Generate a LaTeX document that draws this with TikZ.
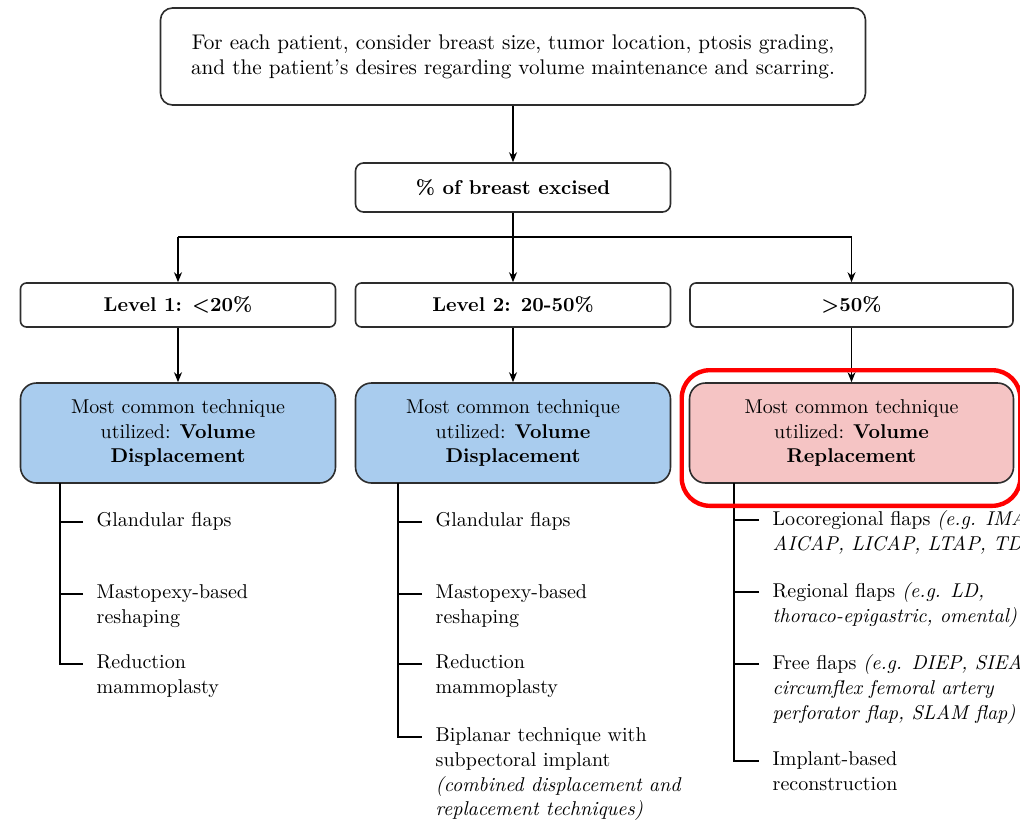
\documentclass[tikz,border=0pt]{standalone}
\usepackage{tikz}
\usetikzlibrary{arrows.meta}

\definecolor{dispblue}{RGB}{169,204,238}
\definecolor{replpink}{RGB}{245,196,196}
\definecolor{framegray}{RGB}{45,45,45}

\begin{document}
\begin{tikzpicture}[x=0.5pt,y=-0.5pt,line width=0.7pt,
    font=\fontsize{10}{12.4}\selectfont]
    \useasboundingbox (0,0) rectangle (1020,825);

    % boxes of the flow
    \begin{scope}[every node/.style={draw=framegray,line width=0.8pt,align=center,inner sep=2pt}]
      \node[rounded corners=6pt,minimum width=352.5pt,minimum height=48.5pt,
        font=\fontsize{10.6}{12.6}\selectfont] (top) at (513,56.5)
        {For each patient, consider breast size, tumor location, ptosis grading,\\
         and the patient's desires regarding volume maintenance and scarring.};
      \node[rounded corners=4pt,minimum width=157.5pt,minimum height=24.5pt,font=\bfseries] (exc) at (513,187.5) {\% of breast excised};
      \node[rounded corners=3pt,minimum width=157.5pt,minimum height=22pt,font=\bfseries] (lv1) at (178,305) {Level 1: <20\%};
      \node[rounded corners=3pt,minimum width=157.5pt,minimum height=22pt,font=\bfseries] (lv2) at (513,305) {Level 2: 20-50\%};
      \node[rounded corners=3pt,minimum width=161.5pt,minimum height=22pt,font=\bfseries] (lv3) at (851.5,305) {>50\%};
      \node[rounded corners=8pt,minimum width=157.5pt,minimum height=50pt,fill=dispblue] (tc1) at (178,433)
        {Most common technique\\utilized: \textbf{Volume}\\\textbf{Displacement}};
      \node[rounded corners=8pt,minimum width=157.5pt,minimum height=50pt,fill=dispblue] (tc2) at (513,433)
        {Most common technique\\utilized: \textbf{Volume}\\\textbf{Displacement}};
      \node[rounded corners=8pt,minimum width=162pt,minimum height=50pt,fill=replpink] (tc3) at (851.5,433)
        {Most common technique\\utilized: \textbf{Volume}\\\textbf{Replacement}};
    \end{scope}

    \begin{scope}[>={Stealth[black,length=5pt,width=4pt]}]
      \coordinate (split) at (513,237);
      \draw[->] (top) -- (exc);
      \draw (exc) -- (split);
      \draw (split -| lv1) -- (split -| lv3);
      \draw[->] (split -| lv1) -- (lv1);
      \draw[->] (split) -- (lv2);
      \draw[->] (split -| lv3) -- (lv3);
      \draw[->] (lv1) -- (tc1);
      \draw[->] (lv2) -- (tc2);
      \draw[->] (lv3) -- (tc3);
    \end{scope}

    % lists under each technique
    \begin{scope}[every node/.style={anchor=north west,align=left,inner xsep=6.5pt,inner ysep=0pt}]
      \node (a1) at (83,512) {Glandular flaps};
      \node (a2) at (83,584) {Mastopexy-based\\reshaping};
      \node (a3) at (83,654) {Reduction\\mammoplasty};
      \node (b1) at (422,512) {Glandular flaps};
      \node (b2) at (422,584) {Mastopexy-based\\reshaping};
      \node (b3) at (422,654) {Reduction\\mammoplasty};
      \node (b4) at (422,727) {Biplanar technique with\\subpectoral implant\\
        \textit{(combined displacement and}\\\textit{replacement techniques)}};
      \node (c1) at (759,510) {Locoregional flaps \textit{(e.g. IMAP,}\\\textit{AICAP, LICAP, LTAP, TDAP)}};
      \node (c2) at (759,582) {Regional flaps \textit{(e.g. LD,}\\\textit{thoraco-epigastric, omental)}};
      \node (c3) at (759,654) {Free flaps \textit{(e.g. DIEP, SIEA,}\\\textit{circumflex femoral artery}\\
        \textit{perforator flap, SLAM flap)}};
      \node (c4) at (759,751) {Implant-based\\reconstruction};
    \end{scope}

    \coordinate (s1) at (60,483);
    \coordinate (s2) at (398,483);
    \coordinate (s3) at (734,483);
    \draw (s1) |- ([yshift=-5pt]a3.north west);
    \draw (s2) |- ([yshift=-5pt]b4.north west);
    \draw (s3) |- ([yshift=-5pt]c4.north west);
    \foreach \n in {a1,a2} \draw ([yshift=-5pt]\n.north west) -- ++(-23,0);
    \foreach \n in {b1,b2,b3} \draw ([yshift=-5pt]\n.north west) -- ++(-24,0);
    \foreach \n in {c1,c2,c3} \draw ([yshift=-5pt]\n.north west) -- ++(-25,0);

    % red mark round the replacement box
    \draw[red,line width=2.2pt,rounded corners=14pt]
      ([shift={(-7,-12)}]tc3.north west) rectangle ([shift={(6,22)}]tc3.south east);
\end{tikzpicture}
\end{document}
